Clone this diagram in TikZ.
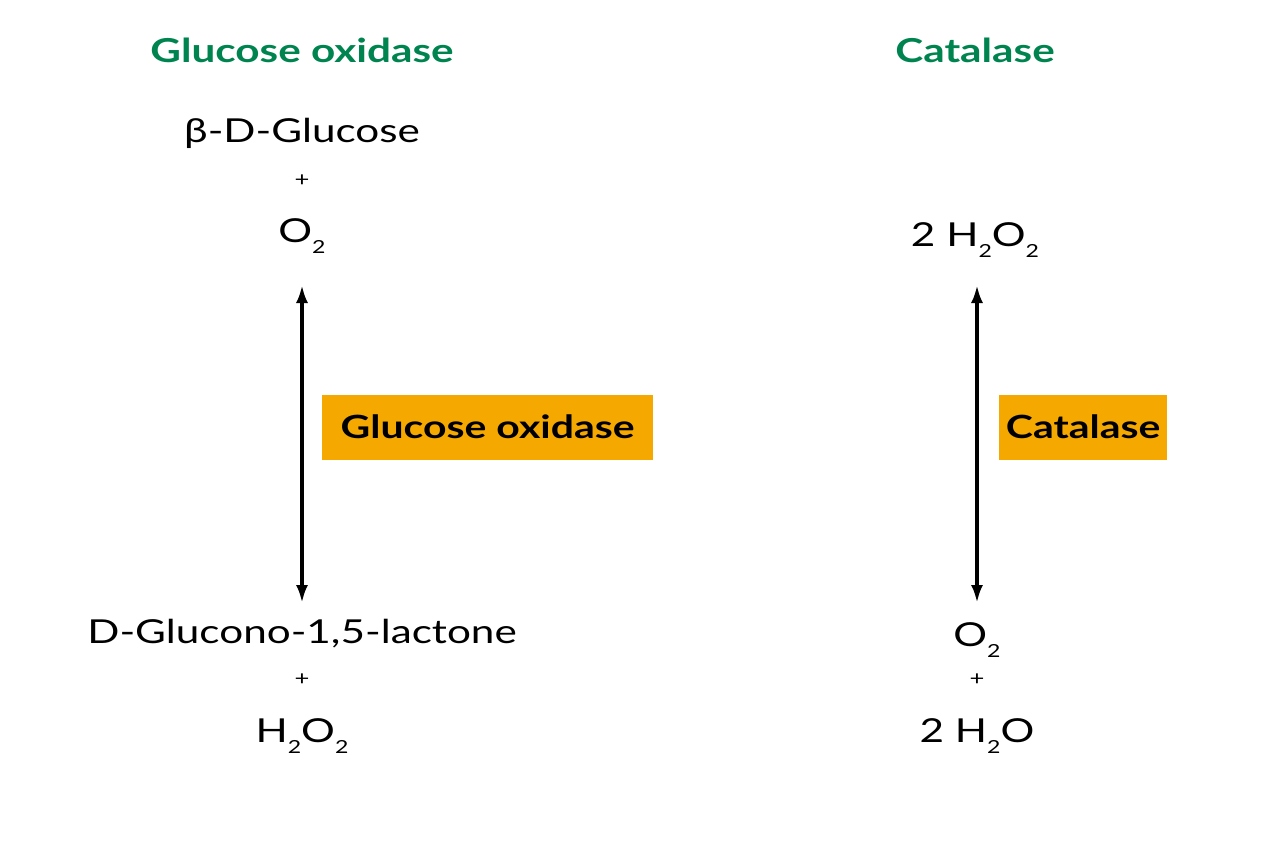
\documentclass[tikz,border=0pt]{standalone}
\usetikzlibrary{arrows.meta}
\usepackage{fontspec}
\setmainfont[FakeStretch=1.28]{Lato}
\definecolor{tgreen}{HTML}{00844F}
\definecolor{tor}{HTML}{F5A800}
\newcommand{\sbt}[1]{\raisebox{-0.35em}{\fontsize{18}{20}\selectfont #1}}
\begin{document}
\begin{tikzpicture}[x=1pt,y=-1pt,
  title/.style={text=tgreen,font=\fontsize{33}{38}\selectfont\bfseries},
  chem/.style={font=\fontsize{33}{38}\selectfont},
  plus/.style={font=\fontsize{20}{22}\selectfont},
  enz/.style={fill=tor,font=\fontsize{32}{36}\selectfont\bfseries,anchor=west,minimum height=65pt,inner xsep=4pt},
  arr/.style={line width=3.5pt,{Latex[length=18pt,width=12pt]}-{Latex[length=18pt,width=12pt]}}]
\useasboundingbox (0,0) rectangle (1280,853);
\node[title] (t1) at (302,50) {Glucose oxidase};
\node[title] (t2) at (975,50) {Catalase};
\node[chem] (a1) at (302,133) {β-D-Glucose};
\node[plus] (p1) at (302,181) {+};
\node[chem] (a2) at (302,236) {O\sbt{2}};
\coordinate (u1) at (302,285);
\coordinate (d1) at (302,603);
\draw[arr] (u1) -- (d1);
\node[enz,minimum width=331pt] (e1) at (322,427) {Glucose oxidase};
\node[chem] (b1) at (302,634) {D-Glucono-1,5-lactone};
\node[plus] (p2) at (302,680) {+};
\node[chem] (b2) at (302,736) {H\sbt{2}O\sbt{2}};
\node[chem] (c1) at (975,240) {2 H\sbt{2}O\sbt{2}};
\coordinate (u2) at (977,285);
\coordinate (d2) at (977,603);
\draw[arr] (u2) -- (d2);
\node[enz,minimum width=168pt] (e2) at (999,427) {Catalase};
\node[chem] (c2) at (977,640) {O\sbt{2}};
\node[plus] (p3) at (977,680) {+};
\node[chem] (c3) at (977,736) {2 H\sbt{2}O};
\end{tikzpicture}
\end{document}
